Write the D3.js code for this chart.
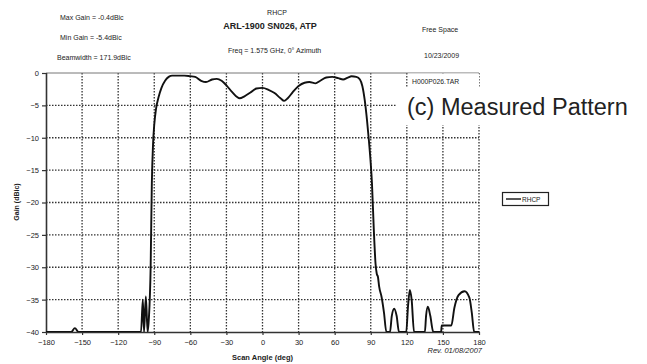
<!DOCTYPE html>
<html>
<head>
<meta charset="utf-8">
<script src="https://cdn.jsdelivr.net/npm/d3@7"></script>
<style>
  html, body { margin: 0; padding: 0; background: #fff; }
  svg { display: block; }
  text { font-family: "Liberation Sans", Arial, sans-serif; fill: #222; }
</style>
</head>
<body>
<svg id="chart" width="647" height="364"></svg>
<script>
// ---- data ----
const angles = [-180,-159,-156,-153,-101,-99.5,-98.5,-97,-95.5,-94.5,-93,-92,-91,-90,-88.5,-86.5,-84,-81,-78,-75,-65,-60,-56,-51,-47,-42,-38,-34,-30,-25,-19,-15,-10,-5,0,5,10,15,18,21,25,30,35,39,44,48,53,58,63,67,71,74,78,81,83,85,87,88.5,90,91,92.5,94,95,96,97,99,101,103,106,107.5,109.5,111.5,113.5,119.5,121,122.5,124,126,135,136,137.5,139.5,142,148.5,149,157,159.5,163,168,172,174,176,180];
const gainRHCP = [-40,-40,-39.4,-40,-40,-35,-40,-34.5,-40,-38,-30,-17,-11,-8,-5.5,-3.8,-2.3,-1.2,-0.6,-0.4,-0.4,-0.5,-0.6,-1.2,-1.4,-1.0,-0.9,-1.2,-1.9,-3.0,-3.9,-3.6,-3.0,-2.4,-2.3,-2.6,-3.1,-3.9,-4.3,-3.9,-3.0,-2.0,-1.5,-1.4,-1.6,-1.2,-0.7,-0.6,-0.8,-1.0,-0.7,-0.5,-0.6,-1.0,-2.0,-4.2,-7.5,-10.5,-14,-17,-24,-29.5,-31,-31.5,-33,-34.6,-37,-40,-40,-37.5,-36.4,-37.5,-40,-40,-36,-33.5,-35,-40,-40,-37.5,-36.1,-37.5,-40,-40,-39,-39,-36.3,-34.3,-33.7,-34.7,-37,-40,-40];
const xTicks = [-180,-150,-120,-90,-60,-30,0,30,60,90,120,150,180];
const yTicks = [0,-5,-10,-15,-20,-25,-30,-35,-40];
const seriesName = "RHCP";
const headerLeft = ["Max Gain = -0.4dBic","Min Gain = -5.4dBic","Beamwidth = 171.9dBic"];
const headerCenter = ["RHCP","ARL-1900 SN026, ATP","Freq = 1.575 GHz, 0\u00B0 Azimuth"];
const headerRight = ["Free Space","10/23/2009"];

// ---- layout ----
const svg = d3.select("#chart");
const L = 46, R = 479, T = 73, B = 332;
const x = d3.scaleLinear().domain([-180,180]).range([L,R]);
const y = d3.scaleLinear().domain([-40,0]).range([B,T]);

// grid
const grid = svg.append("g");
grid.selectAll(".vg").data(xTicks.slice(1)).join("line")
  .attr("x1", d => x(d)).attr("x2", d => x(d)).attr("y1", T).attr("y2", B)
  .attr("stroke","#333").attr("stroke-width",1.3).attr("stroke-dasharray","1.5,1.5");
grid.selectAll(".hg").data(yTicks.slice(1, -1)).join("line")
  .attr("x1", L).attr("x2", R).attr("y1", d => y(d)).attr("y2", d => y(d))
  .attr("stroke","#333").attr("stroke-width",1.3).attr("stroke-dasharray","1.5,1.5");
// top border
svg.append("line").attr("x1",L).attr("x2",R).attr("y1",T).attr("y2",T)
  .attr("stroke","#777").attr("stroke-width",1);

// axes
const yAxis = d3.axisLeft(y).tickValues(yTicks).tickSize(4).tickPadding(3).tickFormat(d3.format("d"));
const xAxis = d3.axisBottom(x).tickValues(xTicks).tickSize(4).tickPadding(4).tickFormat(d3.format("d"));
const gy = svg.append("g").attr("transform",`translate(${L},0)`).call(yAxis);
const gx = svg.append("g").attr("transform",`translate(0,${B})`).call(xAxis);
[gx, gy].forEach(g => {
  g.select(".domain").attr("stroke","#333").attr("stroke-width",1.6);
  g.selectAll(".tick line").attr("stroke","#333").attr("stroke-width",1.2);
  g.selectAll(".tick text").style("font-size","7.5px").attr("fill","#222");
});
gx.selectAll(".tick line").attr("y2",3);
gx.select(".domain").attr("d", `M${L},0.5H${R}`);
gy.select(".domain").attr("d", `M0.5,${T}V${B}`);

// curve
svg.append("clipPath").attr("id","clip").append("rect")
  .attr("x",L).attr("y",T-2).attr("width",R-L).attr("height",B-T+2);
const pts = angles.map((a,i) => [a, gainRHCP[i]]);
const line = d3.line().x(d => x(d[0])).y(d => y(d[1])).curve(d3.curveMonotoneX);
svg.append("path").datum(pts).attr("d", line).attr("clip-path","url(#clip)")
  .attr("fill","none").attr("stroke","#111").attr("stroke-width",1.9).attr("stroke-linejoin","round");

// file tag box
svg.append("rect").attr("x", x(120)+1).attr("y", T+0.5).attr("width", R - x(120) - 1).attr("height", 15).attr("fill","#fff");
svg.append("text").attr("x", 412).attr("y", 84).style("font-size","6.8px").text("H000P026.TAR");

// annotation
svg.append("rect").attr("x",397).attr("y",88).attr("width",245).attr("height",37).attr("fill","#fff");
svg.append("text").attr("x",407).attr("y",115).style("font-size","23.5px").attr("fill","#1a1a1a")
  .text("(c) Measured Pattern");

// axis titles
svg.append("text").attr("transform","translate(19,202) rotate(-90)").attr("text-anchor","middle")
  .style("font-size","7px").style("font-weight","bold").text("Gain (dBic)");
svg.append("text").attr("x", x(0)).attr("y", 360).attr("text-anchor","middle")
  .style("font-size","7.5px").style("font-weight","bold").text("Scan Angle (deg)");
svg.append("text").attr("x", 482).attr("y", 353).attr("text-anchor","end")
  .style("font-size","7.5px").style("font-style","italic").text("Rev. 01/08/2007");

// header
const hl = [20, 40, 60];
headerLeft.forEach((t,i) => svg.append("text").attr("x", i===2 ? 57 : 60).attr("y", hl[i])
  .style("font-size","7px").text(t));
svg.append("text").attr("x",277).attr("y",15).attr("text-anchor","middle").style("font-size","7px").text(headerCenter[0]);
svg.append("text").attr("x",270).attr("y",29).attr("text-anchor","middle").style("font-size","9px").style("font-weight","bold").text(headerCenter[1]);
svg.append("text").attr("x",228).attr("y",53).style("font-size","7px").text(headerCenter[2]);
svg.append("text").attr("x",422).attr("y",32).style("font-size","7px").text(headerRight[0]);
svg.append("text").attr("x",424).attr("y",58).style("font-size","7px").text(headerRight[1]);

// legend
const lg = svg.append("g");
lg.append("rect").attr("x",502.5).attr("y",192.5).attr("width",46).attr("height",13)
  .attr("fill","#fff").attr("stroke","#222").attr("stroke-width",1.2);
lg.append("line").attr("x1",506).attr("x2",521).attr("y1",199).attr("y2",199).attr("stroke","#111").attr("stroke-width",1.4);
lg.append("text").attr("x",522).attr("y",201.5).style("font-size","6.5px").text(seriesName);
</script>
</body>
</html>
